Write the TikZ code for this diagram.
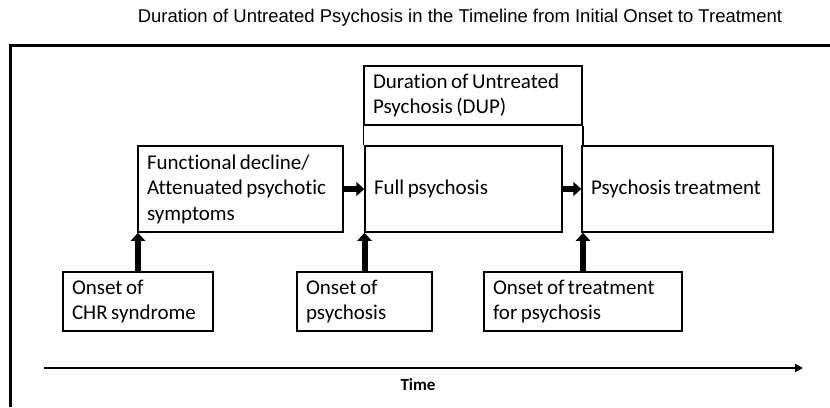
\documentclass[tikz,border=0pt]{standalone}
\usepackage{fontspec}
\setmainfont{Carlito}[Ligatures=NoCommon]
\newfontfamily\titlefont{Liberation Sans}
\usetikzlibrary{arrows.meta,positioning}
\tikzstyle{block} = [rectangle, draw, line width=1.5pt, align=left,
    inner xsep=9pt, minimum height=59pt, font=\fontsize{21}{25.5}\selectfont,
    execute at begin node={\spaceskip=3.5pt plus 1pt minus 0.5pt\relax}]
\tikzstyle{line} = [draw, line width=6pt, -{Triangle[width=14pt,length=8pt]}]
\tikzstyle{bracket} = [draw, line width=1.5pt]

\begin{document}
\hyphenpenalty=10000
\begin{tikzpicture}[x=1pt,y=-1pt]
      \useasboundingbox (0,0) rectangle (830,407);
      \node [font=\titlefont\fontsize{18.5}{22}\selectfont] (title) at (460,18)
         {Duration of Untreated Psychosis in the Timeline from Initial Onset to Treatment};
      \draw [line width=3pt] (10,407) -- (10,45) -- (830,45);

      \node [block, text width=187pt, minimum height=86pt] (decline) at (240.5,189)
         {Functional decline/\\Attenuated psychotic\\symptoms};
      \node [block, text width=179pt, minimum height=86pt, right of=decline, node distance=223pt]
         (full) {Full psychosis};
      \node [block, text width=173pt, minimum height=86pt, right of=full, node distance=214pt]
         (treat) {Psychosis treatment};
      \node [block, text width=200pt] (dup) at (473,95.5) {Duration of Untreated\\Psychosis (DUP)};
      \node [block, text width=132pt] (chr) at (138,301.5) {Onset of\\CHR syndrome};
      \node [block, text width=117pt] (onset) at (364.5,301.5) {Onset of\\psychosis};
      \node [block, text width=180pt] (start) at (583,301.5) {Onset of treatment\\for psychosis};

      \coordinate (t0) at (44,368);
      \coordinate (t1) at (803,368);
      \node [font=\bfseries\fontsize{17}{20}\selectfont] (time) at (418,385) {Time};

      \path [line] (decline) -- (full);
      \path [line] (full) -- (treat);
      \path [line] (chr.north) -- (chr.north |- decline.south);
      \path [line] (onset.north) -- (onset.north |- full.south);
      \path [line] (start.north) -- (start.north |- treat.south);
      \path [bracket] (dup.south west) -- (dup.south west |- full.north);
      \path [bracket] (dup.south east) -- (dup.south east |- treat.north);
      \draw [line width=2pt, -{Triangle[width=8pt,length=8pt]}] (t0) -- (t1);
   \end{tikzpicture}
\end{document}
